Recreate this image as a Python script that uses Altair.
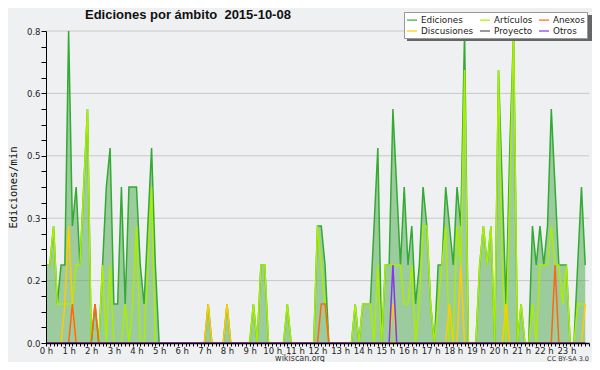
import altair as alt
import pandas as pd

# 10-minute bins over the day (144 bins), values in edits/min
bin_minutes = [10 * i for i in range(144)]

ediciones = [
    0.2, 0.2, 0.3, 0.1, 0.2, 0.2, 0.8, 0.3, 0.4, 0.2, 0.4, 0.6,
    0.0, 0.1, 0.0, 0.2, 0.4, 0.5, 0.1, 0.1, 0.4, 0.1, 0.4, 0.4,
    0.4, 0.2, 0.1, 0.3, 0.5, 0.2, 0.0, 0.0, 0.0, 0.0, 0.0, 0.0,
    0.0, 0.0, 0.0, 0.0, 0.0, 0.0, 0.0, 0.1, 0.0, 0.0, 0.0, 0.0,
    0.1, 0.0, 0.0, 0.0, 0.0, 0.0, 0.0, 0.1, 0.0, 0.2, 0.2, 0.0,
    0.0, 0.0, 0.0, 0.0, 0.1, 0.0, 0.0, 0.0, 0.0, 0.0, 0.0, 0.0,
    0.3, 0.3, 0.2, 0.0, 0.0, 0.0, 0.0, 0.0, 0.0, 0.0, 0.1, 0.0,
    0.1, 0.1, 0.1, 0.3, 0.5, 0.0, 0.2, 0.2, 0.6, 0.4, 0.2, 0.4,
    0.2, 0.3, 0.1, 0.2, 0.4, 0.3, 0.1, 0.0, 0.2, 0.2, 0.4, 0.3,
    0.2, 0.4, 0.3, 0.8, 0.0, 0.0, 0.0, 0.2, 0.3, 0.2, 0.3, 0.0,
    0.7, 0.4, 0.1, 0.5, 0.8, 0.0, 0.1, 0.0, 0.0, 0.3, 0.2, 0.3,
    0.2, 0.3, 0.6, 0.4, 0.2, 0.2, 0.2, 0.0, 0.0, 0.2, 0.4, 0.2,
]

articulos = [
    0.2, 0.2, 0.3, 0.1, 0.1, 0.1, 0.1, 0.1, 0.2, 0.2, 0.4, 0.6,
    0.0, 0.0, 0.0, 0.2, 0.0, 0.2, 0.0, 0.0, 0.0, 0.1, 0.0, 0.1,
    0.3, 0.0, 0.0, 0.2, 0.4, 0.0, 0.0, 0.0, 0.0, 0.0, 0.0, 0.0,
    0.0, 0.0, 0.0, 0.0, 0.0, 0.0, 0.0, 0.0, 0.0, 0.0, 0.0, 0.0,
    0.0, 0.0, 0.0, 0.0, 0.0, 0.0, 0.0, 0.1, 0.0, 0.2, 0.2, 0.0,
    0.0, 0.0, 0.0, 0.0, 0.1, 0.0, 0.0, 0.0, 0.0, 0.0, 0.0, 0.0,
    0.3, 0.2, 0.1, 0.0, 0.0, 0.0, 0.0, 0.0, 0.0, 0.0, 0.1, 0.0,
    0.1, 0.1, 0.1, 0.0, 0.2, 0.0, 0.2, 0.2, 0.2, 0.2, 0.2, 0.1,
    0.1, 0.2, 0.0, 0.1, 0.3, 0.3, 0.1, 0.0, 0.1, 0.2, 0.3, 0.0,
    0.0, 0.3, 0.2, 0.7, 0.0, 0.0, 0.0, 0.2, 0.3, 0.2, 0.3, 0.0,
    0.7, 0.2, 0.0, 0.4, 0.8, 0.0, 0.1, 0.0, 0.0, 0.1, 0.0, 0.2,
    0.2, 0.2, 0.3, 0.2, 0.2, 0.1, 0.2, 0.0, 0.0, 0.1, 0.1, 0.1,
]

discusiones = [
    0.0, 0.0, 0.0, 0.0, 0.0, 0.1, 0.3, 0.1, 0.0, 0.0, 0.0, 0.0,
    0.0, 0.0, 0.0, 0.0, 0.0, 0.0, 0.0, 0.0, 0.0, 0.0, 0.0, 0.0,
    0.0, 0.0, 0.0, 0.0, 0.0, 0.0, 0.0, 0.0, 0.0, 0.0, 0.0, 0.0,
    0.0, 0.0, 0.0, 0.0, 0.0, 0.0, 0.0, 0.1, 0.0, 0.0, 0.0, 0.0,
    0.1, 0.0, 0.0, 0.0, 0.0, 0.0, 0.0, 0.0, 0.0, 0.0, 0.0, 0.0,
    0.0, 0.0, 0.0, 0.0, 0.0, 0.0, 0.0, 0.0, 0.0, 0.0, 0.0, 0.0,
    0.0, 0.0, 0.0, 0.0, 0.0, 0.0, 0.0, 0.0, 0.0, 0.0, 0.0, 0.0,
    0.0, 0.0, 0.0, 0.0, 0.0, 0.0, 0.0, 0.0, 0.1, 0.0, 0.0, 0.0,
    0.0, 0.0, 0.0, 0.0, 0.0, 0.0, 0.0, 0.0, 0.0, 0.0, 0.0, 0.1,
    0.0, 0.0, 0.2, 0.0, 0.0, 0.0, 0.0, 0.0, 0.0, 0.0, 0.0, 0.0,
    0.0, 0.0, 0.1, 0.0, 0.0, 0.0, 0.0, 0.0, 0.0, 0.0, 0.0, 0.0,
    0.0, 0.0, 0.0, 0.0, 0.0, 0.0, 0.0, 0.0, 0.0, 0.0, 0.0, 0.1,
]

anexos = [
    0.0, 0.0, 0.0, 0.0, 0.0, 0.0, 0.0, 0.1, 0.0, 0.0, 0.0, 0.0,
    0.0, 0.1, 0.0, 0.0, 0.0, 0.0, 0.0, 0.0, 0.0, 0.0, 0.0, 0.0,
    0.0, 0.0, 0.0, 0.0, 0.0, 0.0, 0.0, 0.0, 0.0, 0.0, 0.0, 0.0,
    0.0, 0.0, 0.0, 0.0, 0.0, 0.0, 0.0, 0.0, 0.0, 0.0, 0.0, 0.0,
    0.0, 0.0, 0.0, 0.0, 0.0, 0.0, 0.0, 0.0, 0.0, 0.0, 0.0, 0.0,
    0.0, 0.0, 0.0, 0.0, 0.0, 0.0, 0.0, 0.0, 0.0, 0.0, 0.0, 0.0,
    0.0, 0.1, 0.1, 0.0, 0.0, 0.0, 0.0, 0.0, 0.0, 0.0, 0.0, 0.0,
    0.0, 0.0, 0.0, 0.0, 0.0, 0.0, 0.0, 0.0, 0.0, 0.0, 0.0, 0.0,
    0.0, 0.0, 0.0, 0.0, 0.0, 0.0, 0.0, 0.0, 0.0, 0.0, 0.0, 0.0,
    0.0, 0.0, 0.0, 0.0, 0.0, 0.0, 0.0, 0.0, 0.0, 0.0, 0.0, 0.0,
    0.0, 0.0, 0.0, 0.0, 0.0, 0.0, 0.0, 0.0, 0.0, 0.0, 0.0, 0.0,
    0.0, 0.0, 0.0, 0.2, 0.0, 0.0, 0.0, 0.0, 0.0, 0.0, 0.0, 0.0,
]

proyecto = [0.0] * 144

otros = [
    0.0, 0.0, 0.0, 0.0, 0.0, 0.0, 0.0, 0.0, 0.0, 0.0, 0.0, 0.0,
    0.0, 0.0, 0.0, 0.0, 0.0, 0.0, 0.0, 0.0, 0.0, 0.0, 0.0, 0.0,
    0.0, 0.0, 0.0, 0.0, 0.0, 0.0, 0.0, 0.0, 0.0, 0.0, 0.0, 0.0,
    0.0, 0.0, 0.0, 0.0, 0.0, 0.0, 0.0, 0.0, 0.0, 0.0, 0.0, 0.0,
    0.0, 0.0, 0.0, 0.0, 0.0, 0.0, 0.0, 0.0, 0.0, 0.0, 0.0, 0.0,
    0.0, 0.0, 0.0, 0.0, 0.0, 0.0, 0.0, 0.0, 0.0, 0.0, 0.0, 0.0,
    0.0, 0.0, 0.0, 0.0, 0.0, 0.0, 0.0, 0.0, 0.0, 0.0, 0.0, 0.0,
    0.0, 0.0, 0.0, 0.0, 0.0, 0.0, 0.0, 0.0, 0.2, 0.0, 0.0, 0.0,
    0.0, 0.0, 0.0, 0.0, 0.0, 0.0, 0.0, 0.0, 0.0, 0.0, 0.0, 0.0,
    0.0, 0.0, 0.0, 0.0, 0.0, 0.0, 0.0, 0.0, 0.0, 0.0, 0.0, 0.0,
    0.0, 0.0, 0.0, 0.0, 0.0, 0.0, 0.0, 0.0, 0.0, 0.0, 0.0, 0.0,
    0.0, 0.0, 0.0, 0.0, 0.0, 0.0, 0.0, 0.0, 0.0, 0.0, 0.0, 0.0,
]

# legend order (filled column by column: 3 columns x 2 rows)
series_names = ["Ediciones", "Discusiones", "Artículos", "Proyecto", "Anexos", "Otros"]
series_colors = ["#33aa33", "#ffcc00", "#aaee00", "#555555", "#ff6611", "#8833ee"]
series_values = {
    "Ediciones": ediciones,
    "Artículos": articulos,
    "Anexos": anexos,
    "Discusiones": discusiones,
    "Proyecto": proyecto,
    "Otros": otros,
}

title_text = "Ediciones por ámbito \u00a02015-10-08"
site_text = "wikiscan.org"
license_text = "CC BY-SA 3.0"

x_tick_values = list(range(0, 1441, 10))
y_tick_values = [round(k * 0.04, 2) for k in range(21)]
grid_values = [0.16, 0.32, 0.48, 0.64, 0.8]

rows = []
for name in series_names:
    for m, v in zip(bin_minutes, series_values[name]):
        rows.append({"m": m, "serie": name, "v": v})
df = pd.DataFrame(rows)

W, H = 543, 312

x_enc = alt.X(
    "m:Q",
    scale=alt.Scale(domain=[0, 1440], nice=False, zero=False),
    axis=alt.Axis(
        values=x_tick_values,
        labelExpr="datum.value % 60 == 0 && datum.value < 1440 ? (datum.value / 60) + ' h' : ''",
        labelOverlap=False,
        labelFlush=False,
        tickSize=3,
        grid=False,
        title=None,
        labelFont="DejaVu Sans",
        labelFontSize=8.5,
        labelColor="#222222",
        labelPadding=0,
        domainColor="black",
        domainWidth=1.5,
        tickColor="black",
        zindex=2,
    ),
)

y_enc = alt.Y(
    "v:Q",
    scale=alt.Scale(domain=[0, 0.8], nice=False, zero=True),
    axis=alt.Axis(
        values=y_tick_values,
        labelExpr="round(datum.value * 100) % 16 == 0 ? format(datum.value, '.1f') : ''",
        labelOverlap=False,
        labelFlush=False,
        tickSize=5,
        grid=False,
        title="Ediciones/min",
        titleFont="DejaVu Sans Mono",
        titleFontSize=10.5,
        titleFontWeight="normal",
        titleColor="#111111",
        titlePadding=8,
        labelFont="DejaVu Sans",
        labelFontSize=8.5,
        labelColor="#222222",
        labelPadding=1,
        domainColor="black",
        tickColor="black",
        zindex=2,
    ),
)

color_scale = alt.Scale(domain=series_names, range=series_colors)
legend = alt.Legend(
    orient="none",
    legendX=358,
    legendY=-19,
    columns=3,
    title=None,
    symbolType="stroke",
    symbolSize=100,
    symbolStrokeWidth=1.2,
    labelFont="DejaVu Sans",
    labelFontSize=8.8,
    labelColor="#222222",
    fillColor="white",
    strokeColor="#999999",
    padding=2,
    rowPadding=0,
    columnPadding=3,
    labelOffset=3,
    zindex=3,
)

base = alt.Chart(df)

grid = alt.Chart(pd.DataFrame({"v": grid_values})).mark_rule(
    color="#c8c8c8", strokeWidth=1
).encode(y=y_enc, x=alt.value(0), x2=alt.value(W))

area = base.transform_filter(alt.datum.serie == "Ediciones").mark_area(
    color="#4aa84a", opacity=0.5
).encode(x=x_enc, y=y_enc)

draw_order = ["Ediciones", "Proyecto", "Artículos", "Discusiones", "Anexos", "Otros"]
lines = []
for name in draw_order:
    lines.append(
        base.transform_filter(alt.datum.serie == name)
        .mark_line(strokeWidth=1.5, strokeJoin="miter")
        .encode(
            x=x_enc,
            y=y_enc,
            color=alt.Color("serie:N", scale=color_scale, legend=legend, sort=series_names),
        )
    )

shadow = alt.Chart(pd.DataFrame({"s": [1]})).mark_rect(color="#666666").encode(
    x=alt.value(361), x2=alt.value(547), y=alt.value(-16), y2=alt.value(10)
)

title = alt.Chart(pd.DataFrame({"t": [title_text]})).mark_text(
    font="Liberation Sans", fontSize=13, fontWeight="bold", color="#111111",
    align="left", baseline="alphabetic"
).encode(text="t:N", x=alt.value(39), y=alt.value(-12))

site = alt.Chart(pd.DataFrame({"t": [site_text]})).mark_text(
    font="DejaVu Sans", fontSize=8, color="#333333", align="center", baseline="alphabetic"
).encode(text="t:N", x=alt.value(254), y=alt.value(H + 18))

lic = alt.Chart(pd.DataFrame({"t": [license_text]})).mark_text(
    font="DejaVu Sans", fontSize=6.5, color="#333333", align="right", baseline="alphabetic"
).encode(text="t:N", x=alt.value(W), y=alt.value(H + 18))

chart = alt.layer(grid, area, *lines, shadow, title, site, lic).properties(
    width=W,
    height=H,
    autosize=alt.AutoSizeParams(type="none"),
    padding={"left": 38, "top": 23, "right": 3, "bottom": 19},
    background="#eff0f1",
).configure_view(stroke=None)

chart.save("out.html", embed_options={"renderer": "svg", "actions": False})
